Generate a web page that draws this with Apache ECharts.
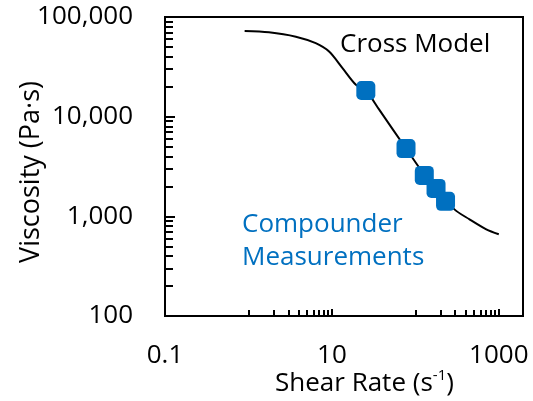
<!DOCTYPE html>
<html>
<head>
<meta charset="utf-8">
<script src="https://cdn.jsdelivr.net/npm/echarts@6/dist/echarts.min.js"></script>
<style>
  html, body { margin: 0; padding: 0; background: #fff; }
  #chart { width: 533px; height: 401px; }
</style>
</head>
<body>
<div id="chart"></div>
<script>
// ---- data ----
const crossModelShearRate = [0.9, 1.76, 3.7, 6.4, 9.25, 13.4, 19.4, 25.5, 36.9, 77.3, 147, 294, 446, 708, 1000];
const crossModelViscosity = [72400, 70300, 63500, 54600, 45000, 30700, 20900, 18300, 11750, 4790, 2240, 1175, 933, 741, 661];
const measuredShearRate = [25.5, 77.3, 128, 177, 230];
const measuredViscosity = [18300, 4790, 2570, 1905, 1413];
const xMajorTicks = [0.1, 10, 1000];
const xMinorTicks = [1, 2, 3, 4, 5, 6, 7, 8, 9, 100, 200, 300, 400, 500, 600, 700, 800, 900];
const yMajorTicks = [100, 1000, 10000, 100000];
const yMinorTicks = [200, 300, 400, 500, 600, 700, 800, 900,
  2000, 3000, 4000, 5000, 6000, 7000, 8000, 9000,
  20000, 30000, 40000, 50000, 60000, 70000, 80000, 90000];
const xTitle = ['Shear Rate (s', '-1', ')'];
const yTitle = 'Viscosity (Pa·s)';
const crossLabel = 'Cross Model';
const measLabel = 'Compounder\nMeasurements';

const FONT = '"Open Sans", "Noto Sans", sans-serif';
const BLUE = '#0070C0';
const X_MIN = 0.1, X_MAX = 1950, Y_MIN = 100, Y_MAX = 100000;

const chart = echarts.init(document.getElementById('chart'), null, { renderer: 'canvas' });

const gridRect = { left: 165, right: 10, top: 17, bottom: 85, outerBoundsMode: 'none' };

const option = {
  animation: false,
  grid: [
    Object.assign({ show: true, borderColor: '#000', borderWidth: 2, backgroundColor: 'transparent' }, gridRect),
    Object.assign({ show: false }, gridRect)
  ],
  xAxis: [
    {
      type: 'log', gridIndex: 0, min: X_MIN, max: X_MAX,
      axisLine: { show: true, lineStyle: { color: '#000', width: 2 } },
      axisTick: { show: true, inside: true, length: 7, lineStyle: { color: '#000', width: 2 }, customValues: xMajorTicks },
      axisLabel: { show: true, customValues: xMajorTicks, margin: 27, fontFamily: FONT, fontSize: 26, color: '#000',
        formatter: v => String(v) },
      splitLine: { show: false }, minorTick: { show: false }, minorSplitLine: { show: false }
    },
    {
      type: 'log', gridIndex: 1, min: X_MIN, max: X_MAX,
      axisLine: { show: false },
      axisTick: { show: true, inside: true, length: 6, lineStyle: { color: '#000', width: 2 }, customValues: xMinorTicks },
      axisLabel: { show: false },
      splitLine: { show: false }
    }
  ],
  yAxis: [
    {
      type: 'log', gridIndex: 0, min: Y_MIN, max: Y_MAX,
      axisLine: { show: true, lineStyle: { color: '#000', width: 2 } },
      axisTick: { show: true, inside: true, length: 10, lineStyle: { color: '#000', width: 2 }, customValues: yMajorTicks },
      axisLabel: { show: true, customValues: yMajorTicks, margin: 32, fontFamily: FONT, fontSize: 26, color: '#000',
        formatter: v => Number(v).toLocaleString('en-US') },
      splitLine: { show: false }, minorTick: { show: false }, minorSplitLine: { show: false }
    },
    {
      type: 'log', gridIndex: 1, min: Y_MIN, max: Y_MAX,
      axisLine: { show: false },
      axisTick: { show: true, inside: true, length: 8, lineStyle: { color: '#000', width: 2 }, customValues: yMinorTicks },
      axisLabel: { show: false },
      splitLine: { show: false }
    }
  ],
  series: [
    {
      type: 'line', xAxisIndex: 0, yAxisIndex: 0,
      data: crossModelShearRate.map((x, i) => [x, crossModelViscosity[i]]),
      smooth: 0.3, showSymbol: false, symbol: 'none',
      lineStyle: { color: '#000', width: 2 }, z: 2
    },
    {
      type: 'scatter', xAxisIndex: 0, yAxisIndex: 0,
      data: measuredShearRate.map((x, i) => [x, measuredViscosity[i]]),
      symbol: 'roundRect', symbolSize: 19,
      itemStyle: { color: BLUE, opacity: 1 }, z: 3
    }
  ],
  graphic: [
    {
      type: 'text', left: 275, top: 368,
      style: {
        text: '{a|' + xTitle[0] + '}{b|' + xTitle[1] + '}{a|' + xTitle[2] + '}',
        rich: {
          a: { fontFamily: FONT, fontSize: 26, fill: '#000', lineHeight: 32 },
          b: { fontFamily: FONT, fontSize: 15, fill: '#000', verticalAlign: 'top', lineHeight: 22 }
        }
      }
    },
    {
      type: 'text', x: 31, y: 172, rotation: Math.PI / 2,
      style: { text: yTitle, fontFamily: FONT, fontSize: 27, fill: '#000', align: 'center', verticalAlign: 'middle' }
    },
    {
      type: 'text', x: 340, y: 45,
      style: { text: crossLabel, fontFamily: FONT, fontSize: 26, fill: '#000', align: 'left', verticalAlign: 'middle' }
    },
    {
      type: 'text', x: 242, y: 241,
      style: { text: measLabel, fontFamily: FONT, fontSize: 26, fill: BLUE, align: 'left', verticalAlign: 'middle', lineHeight: 33 }
    }
  ]
};
chart.setOption(option);
</script>
</body>
</html>
